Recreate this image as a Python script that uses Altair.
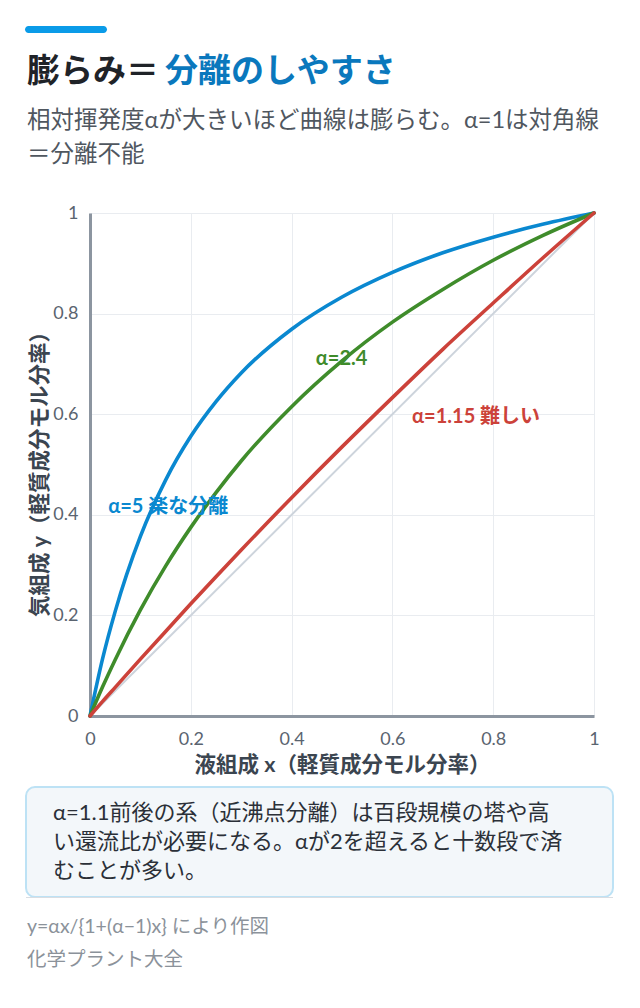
import altair as alt
import pandas as pd

FONT = "Noto Sans CJK JP"
MIX = "Lato, Noto Sans CJK JP"

# --- data ------------------------------------------------------------------
x_liquid = [0, 0.025, 0.05, 0.1, 0.15, 0.2, 0.25, 0.3, 0.4, 0.5, 0.6, 0.7, 0.8, 0.9, 1.0]
y_alpha5 = [0, 0.114, 0.208, 0.357, 0.469, 0.556, 0.625, 0.682, 0.769, 0.833, 0.882, 0.921, 0.952, 0.978, 1.0]
y_alpha24 = [0, 0.058, 0.112, 0.211, 0.298, 0.375, 0.444, 0.507, 0.615, 0.706, 0.783, 0.848, 0.906, 0.956, 1.0]
y_alpha115 = [0, 0.029, 0.057, 0.113, 0.168, 0.223, 0.277, 0.330, 0.434, 0.535, 0.633, 0.729, 0.821, 0.912, 1.0]
diag_x = [0, 1]
diag_y = [0, 1]

series_names = ["α=5", "α=2.4", "α=1.15"]
series_colors = ["#0a88d0", "#3f8c2b", "#cc423a"]

label_text = ["α=5 楽な分離", "α=2.4", "α=1.15 難しい"]
label_x = [0.036, 0.448, 0.639]
label_y = [0.415, 0.71, 0.594]

tick_values = [0, 0.2, 0.4, 0.6, 0.8, 1]

title_dark = "膨らみ＝"
title_blue = "分離のしやすさ"
subtitle_lines = ["相対揮発度αが大きいほど曲線は膨らむ。α=1は対角線", "＝分離不能"]
note_lines = [
    "α=1.1前後の系（近沸点分離）は百段規模の塔や高",
    "い還流比が必要になる。αが2を超えると十数段で済",
    "むことが多い。",
]
footer_lines = ["y=αx/{1+(α−1)x} により作図", "化学プラント大全"]

W, H = 504, 503

# --- axes --------------------------------------------------------------------
x_axis = alt.Axis(
    values=tick_values, format="~g", title="液組成 x（軽質成分モル分率）",
    grid=True, gridColor="#e9ecf0", ticks=False, labelFlush=False,
    domainColor="#8c95a0", domainWidth=3,
    labelFont=MIX, labelFontSize=18, labelColor="#5a6470", labelPadding=14,
    titleFont=MIX, titleFontSize=21.5, titleFontWeight="bold", titleColor="#3b4550",
    titleX=W / 2, titleY=49, titleBaseline="middle",
)
y_axis = alt.Axis(
    values=tick_values, format="~g", title="気組成 y（軽質成分モル分率）",
    grid=True, gridColor="#e9ecf0", ticks=False, labelFlush=False,
    domainColor="#8c95a0", domainWidth=3,
    labelFont=MIX, labelFontSize=18, labelColor="#5a6470", labelPadding=12,
    titleFont=MIX, titleFontSize=21.5, titleFontWeight="bold", titleColor="#3b4550",
    titleX=-50, titleY=H / 2 + 4, titleAngle=270, titleAlign="center", titleBaseline="middle",
)
x_enc = alt.X("x:Q", scale=alt.Scale(domain=[0, 1], nice=False), axis=x_axis)
y_enc = alt.Y("y:Q", scale=alt.Scale(domain=[0, 1], nice=False), axis=y_axis)

# --- plot layers ---------------------------------------------------------------
diag = alt.Chart(pd.DataFrame({"x": diag_x, "y": diag_y})).mark_line(
    color="#cdd4dc", strokeWidth=2
).encode(x=x_enc, y=y_enc)

layers = [diag]
for name, ys, col in zip(series_names, [y_alpha5, y_alpha24, y_alpha115], series_colors):
    df = pd.DataFrame({"x": x_liquid, "y": ys, "series": name})
    layers.append(
        alt.Chart(df).mark_line(
            color=col, strokeWidth=3.6, interpolate="monotone", strokeCap="round"
        ).encode(x="x:Q", y="y:Q")
    )

labels_df = pd.DataFrame({"x": label_x, "y": label_y, "t": label_text, "s": series_names})
labels = alt.Chart(labels_df).mark_text(
    align="left", baseline="middle", font=MIX, fontSize=20, fontWeight="bold"
).encode(
    x="x:Q", y="y:Q", text="t:N",
    color=alt.Color("s:N", scale=alt.Scale(domain=series_names, range=series_colors), legend=None),
)
layers.append(labels)


# --- page decorations (pixel positions relative to the plot origin) -------------
def txt(s, x, y, size, color, weight="normal", font=MIX):
    return alt.Chart(pd.DataFrame({"a": [0]})).mark_text(
        align="left", baseline="middle", font=font, fontSize=size,
        fontWeight=weight, color=color,
    ).encode(x=alt.value(x), y=alt.value(y), text=alt.value(s))


def box(x, x2, y, y2, **kw):
    return alt.Chart(pd.DataFrame({"a": [0]})).mark_rect(**kw).encode(
        x=alt.value(x), x2=alt.value(x2), y=alt.value(y), y2=alt.value(y2)
    )


deco = [
    box(-65, 17, -187, -180, color="#0a9be8", cornerRadius=4),
    txt(title_dark, -63, -141, 33, "#1f2328", "bold", FONT),
    txt(title_blue, 75, -141, 33, "#0a78bd", "bold", FONT),
]
for i, line in enumerate(subtitle_lines):
    deco.append(txt(line, -63, -92 + 34 * i, 23.5, "#50575f"))

deco.append(box(-64, 523, 574, 684, fill="#f3f7fa", stroke="#bde2f5", strokeWidth=2, cornerRadius=9))
deco.append(box(-64, 523, 684, 685, color="#d9dde2"))
for i, line in enumerate(note_lines):
    deco.append(txt(line, -37, 600 + 29 * i, 22, "#2b3038"))
for i, line in enumerate(footer_lines):
    deco.append(txt(line, -63, 714 + 33 * i, 19.5, "#8b929a"))

chart = alt.layer(*layers, *deco).properties(
    width=W, height=H,
    autosize=alt.AutoSizeParams(type="none"),
    padding={"left": 82, "top": 205, "right": 38, "bottom": 272},
    background="white",
).configure_view(stroke="transparent")

chart.save("out.html", embed_options={"renderer": "svg", "actions": False})
